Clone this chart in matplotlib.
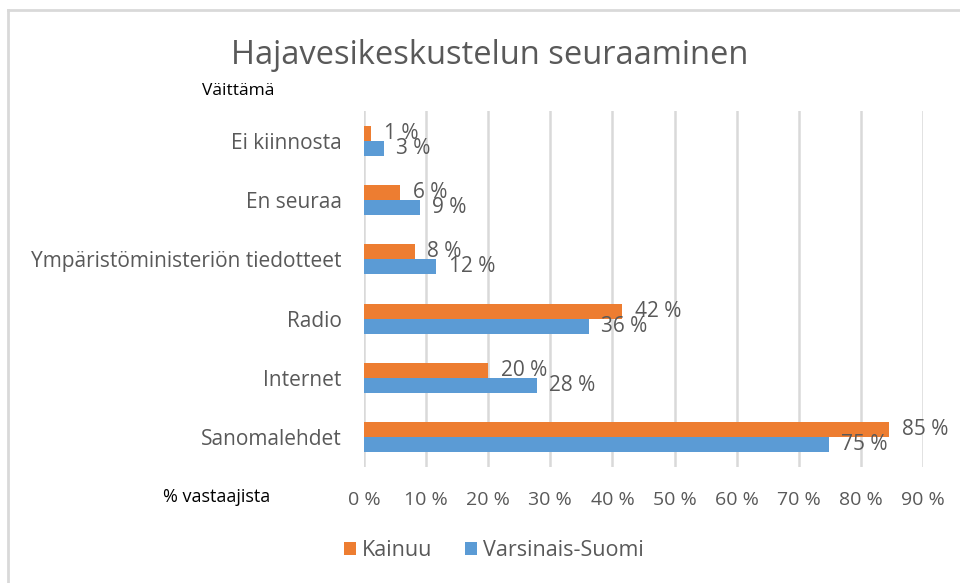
import matplotlib
matplotlib.use("Agg")
import matplotlib.pyplot as plt
from matplotlib.lines import Line2D
from matplotlib.patches import Patch
import numpy as np

plt.rcParams['font.family'] = ['Open Sans', 'DejaVu Sans']

categories = ["Ei kiinnosta", "En seuraa", "Ympäristöministeriön tiedotteet",
              "Radio", "Internet", "Sanomalehdet"]
kainuu = [1.2, 5.8, 8.2, 41.6, 20.0, 84.6]
varsinais = [3.2, 9.0, 11.6, 36.2, 27.8, 74.8]
series_names = ["Kainuu", "Varsinais-Suomi"]
xticks = [0, 10, 20, 30, 40, 50, 60, 70, 80, 90]

c_orange = "#ED7D31"
c_blue = "#5B9BD5"
c_text = "#595959"

fig = plt.figure(figsize=(9.6, 5.83), dpi=100)
ax = fig.add_axes([364/960, 1-467/583, (923-364)/960, (467-111)/583])

y = np.arange(len(categories))
h = 0.255
ax.barh(y - h/2, kainuu, height=h, color=c_orange, zorder=3)
ax.barh(y + h/2, varsinais, height=h, color=c_blue, zorder=3)

for yi, v in zip(y, kainuu):
    ax.annotate(f"{round(v)} %", (v, yi - h/2), xytext=(9, 0), textcoords="offset points",
                va="center", ha="left", fontsize=15, color=c_text, zorder=4)
for yi, v in zip(y, varsinais):
    ax.annotate(f"{round(v)} %", (v, yi + h/2), xytext=(9, 0), textcoords="offset points",
                va="center", ha="left", fontsize=15, color=c_text, zorder=4)

ax.set_xlim(0, 90)
ax.set_ylim(len(categories) - 0.5, -0.5)
ax.set_xticks(xticks)
ax.set_xticklabels([f"{t} %" for t in xticks], fontsize=14, color=c_text)
ax.set_yticks(y)
ax.set_yticklabels(categories, fontsize=15, color=c_text)
ax.tick_params(axis='x', length=0, pad=17)
ax.tick_params(axis='y', length=0, pad=16)
ax.grid(axis='x', color="#D9D9D9", linewidth=1.8, zorder=0)
for s in ax.spines.values():
    s.set_visible(False)

fig.text(490/960, 1-56/583, "Hajavesikeskustelun seuraaminen", ha="center", va="center",
         fontsize=23.5, color=c_text)
fig.text(202/960, 1-91/583, "Väittämä", ha="left", va="center", fontsize=12.5, color="black")
fig.text(163/960, 1-497/583, "% vastaajista", ha="left", va="center", fontsize=13, color="black")

handles = [Patch(facecolor=c_orange), Patch(facecolor=c_blue)]
fig.legend(handles, series_names, loc="center", bbox_to_anchor=(494/960, 1-551/583),
           ncol=2, frameon=False, fontsize=15.5, labelcolor=c_text,
           handlelength=0.55, handleheight=0.55, handletextpad=0.3, columnspacing=1.5)

# chart frame (top and left edges visible)
fig.add_artist(Line2D([8/960, 1], [1-10/583, 1-10/583], color="#D9D9D9", linewidth=2))
fig.add_artist(Line2D([8/960, 8/960], [0, 1-10/583], color="#D9D9D9", linewidth=2))

fig.savefig("out.png", dpi=100)
